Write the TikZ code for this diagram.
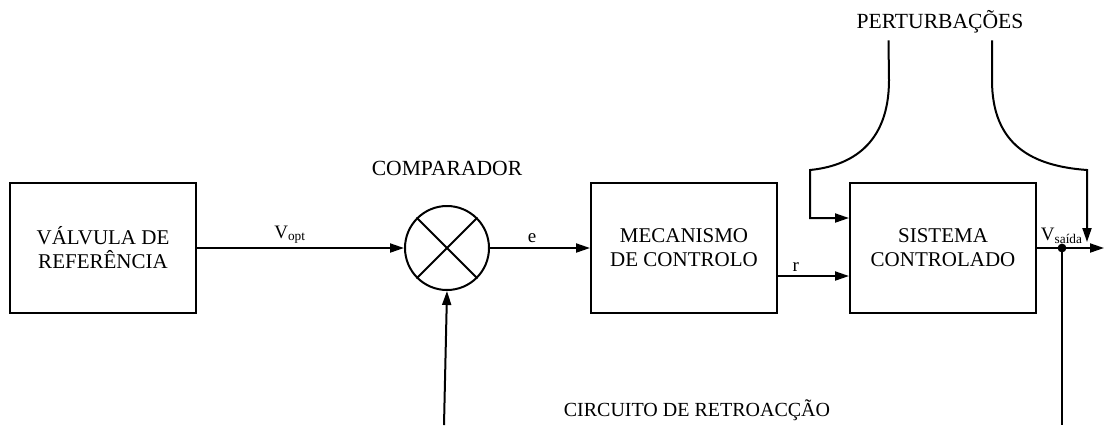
\documentclass[tikz,border=0pt]{standalone}
\usepackage{fontspec}
\setmainfont{Liberation Serif}
\usetikzlibrary{arrows.meta,positioning}
\tikzset{
  block/.style={
    draw,
    line width=1pt,
    minimum width=93pt,
    minimum height=65pt,
    align=center,
    font=\fontsize{10.5}{12}\selectfont
  },
  comparator/.style={
    draw,
    circle,
    line width=1pt,
    minimum size=42pt,
    inner sep=0pt
  },
  caption/.style={
    font=\fontsize{10.8}{12}\selectfont
  },
  signal/.style={
    font=\fontsize{9.5}{11}\selectfont,
    inner sep=2pt
  },
  flow/.style={-{Triangle[length=7pt,width=4.5pt]}, line width=1pt},
  wire/.style={line width=1pt}
}

\begin{document}
\begin{tikzpicture}[x=0.5pt, y=-0.5pt]
  \useasboundingbox (0,0) rectangle (1104,425);

  \node[block] (ref) at (103,248) {VÁLVULA DE\\REFERÊNCIA};
  \node[comparator, right=103.5pt of ref] (comp) {};
  \node[block, right=50pt of comp] (mech) {MECANISMO\\DE CONTROLO};
  \node[block, right=35.5pt of mech] (plant) {SISTEMA\\CONTROLADO};

  \node[caption, above=11pt of comp] (compname) {COMPARADOR};
  \node[caption] (dist) at (940,22) {PERTURBAÇÕES};
  \node[caption, font=\fontsize{10}{12}\selectfont] (loop) at (697,410) {CIRCUITO DE RETROACÇÃO};

  % cross inside the comparator
  \draw[wire] (comp.north west) -- (comp.south east);
  \draw[wire] (comp.north east) -- (comp.south west);

  \coordinate (sense) at (1062,248);
  \coordinate (out) at (1104,248);
  \coordinate (ptip) at (1087,242);
  \coordinate (fbl) at (444,425);
  \coordinate (fbr) at (1062,425);

  \draw[flow] (ref) -- node[signal, above, pos=0.45] (vopt) {V\textsubscript{opt}} (comp);
  \draw[flow] (comp) -- node[signal, above, pos=0.42] (err) {e} (mech);
  \draw[flow] ([yshift=-14pt]mech.east) -- node[signal, above, pos=0.25] (act) {r} ([yshift=-14pt]plant.west);
  \draw[flow] (plant.east) -- (out);
  \node[signal, above=0pt of sense] (vout) {V\textsubscript{saída}};
  \fill (sense) circle (2.2pt);

  % disturbances
  \draw[flow] ([xshift=-25.75pt]dist.south) -- (889,80)
    .. controls (889,145) and (850,166) .. (810,170)
    |- ([yshift=15pt]plant.west);
  \draw[flow] ([xshift=26pt]dist.south) -- (992,80)
    .. controls (992,145) and (1032,166) .. (1087,170)
    -- (ptip);

  % feedback
  \draw[flow] (fbl) -- (comp.south);
  \draw[wire] (sense) -- (fbr);
\end{tikzpicture}
\end{document}
